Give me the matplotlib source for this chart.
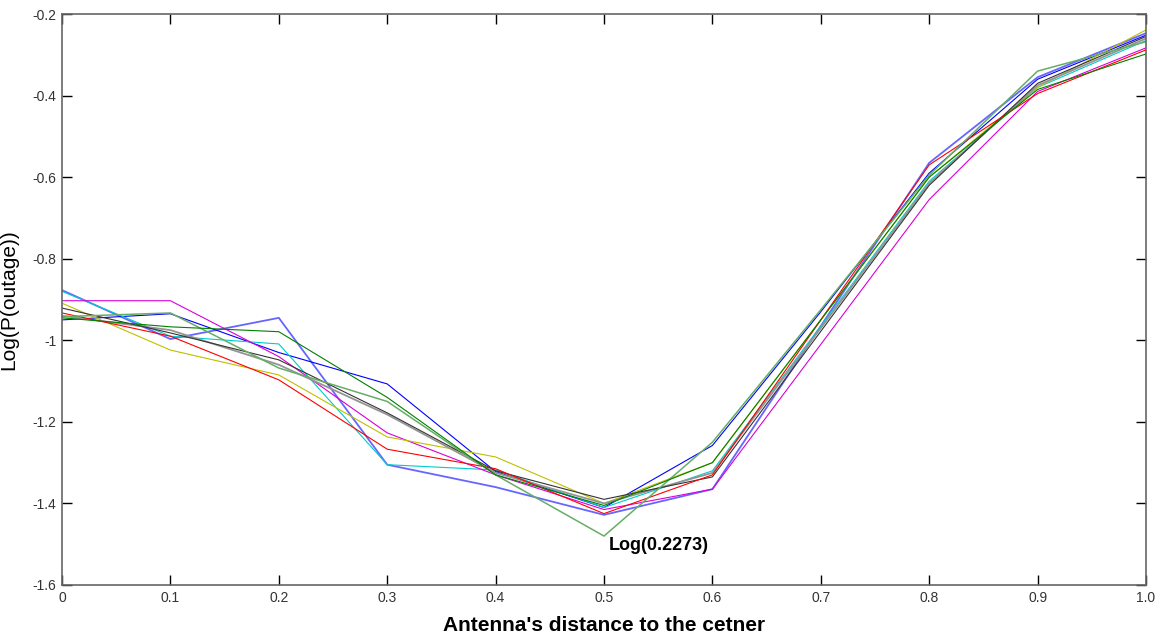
import matplotlib
matplotlib.use("Agg")
import matplotlib.pyplot as plt
from matplotlib.ticker import FixedLocator

x = [0.0, 0.1, 0.2, 0.3, 0.4, 0.5, 0.6, 0.7, 0.8, 0.9, 1.0]

blue_a = [-0.877, -0.997, -0.945, -1.305, -1.360, -1.428, -1.365, -0.965, -0.565, -0.355, -0.247]
blue_b = [-0.950, -0.935, -1.030, -1.107, -1.322, -1.410, -1.258, -0.930, -0.590, -0.360, -0.252]
cyan = [-0.880, -0.990, -1.009, -1.305, -1.318, -1.410, -1.320, -0.965, -0.610, -0.380, -0.265]
magenta = [-0.903, -0.903, -1.040, -1.227, -1.330, -1.415, -1.365, -1.010, -0.655, -0.390, -0.283]
yellow = [-0.909, -1.024, -1.085, -1.237, -1.286, -1.400, -1.300, -0.950, -0.600, -0.380, -0.239]
black = [-0.921, -0.982, -1.048, -1.178, -1.320, -1.390, -1.335, -0.978, -0.620, -0.370, -0.255]
red = [-0.933, -0.990, -1.097, -1.267, -1.315, -1.425, -1.330, -0.950, -0.570, -0.395, -0.288]
green_light = [-0.942, -0.933, -1.068, -1.150, -1.330, -1.480, -1.250, -0.925, -0.595, -0.340, -0.268]
green_dark = [-0.945, -0.967, -0.979, -1.140, -1.330, -1.405, -1.300, -0.950, -0.600, -0.385, -0.298]
gray = [-0.940, -0.975, -1.060, -1.182, -1.325, -1.400, -1.325, -0.970, -0.615, -0.375, -0.260]

series = [
    (blue_a, (0.4, 0.4, 1.0), 1.3),
    (blue_b, (0.0, 0.0, 1.0), 0.8),
    (cyan, (0.0, 0.8, 0.8), 0.8),
    (magenta, (0.85, 0.0, 0.85), 0.8),
    (yellow, (0.75, 0.75, 0.0), 0.8),
    (gray, (0.58, 0.58, 0.58), 1.3),
    (black, (0.2, 0.2, 0.2), 0.8),
    (red, (1.0, 0.0, 0.0), 0.8),
    (green_light, (0.4, 0.68, 0.4), 1.1),
    (green_dark, (0.0, 0.5, 0.0), 0.8),
]

xticks = [0, 0.1, 0.2, 0.3, 0.4, 0.5, 0.6, 0.7, 0.8, 0.9, 1.0]
xticklabels = ["0", "0.1", "0.2", "0.3", "0.4", "0.5", "0.6", "0.7", "0.8", "0.9", "1.0"]
yticks = [-1.6, -1.4, -1.2, -1.0, -0.8, -0.6, -0.4, -0.2]
yticklabels = ["-1.6", "-1.4", "-1.2", "-1", "-0.8", "-0.6", "-0.4", "-0.2"]

plt.rcParams['font.family'] = ['Liberation Sans', 'DejaVu Sans']

fig = plt.figure(figsize=(11.63, 6.35), dpi=100)
ax = fig.add_axes([62 / 1163, 50 / 635, (1146 - 62) / 1163, (585 - 14) / 635])

for vals, col, lw in series:
    ax.plot(x, vals, color=col, lw=lw)

ax.set_xlim(0, 1.0)
ax.set_ylim(-1.6, -0.2)
ax.xaxis.set_major_locator(FixedLocator(xticks))
ax.set_xticklabels(xticklabels, family=['Liberation Sans Narrow', 'Liberation Sans'])
ax.yaxis.set_major_locator(FixedLocator(yticks))
ax.set_yticklabels(yticklabels, family=['Liberation Sans Narrow', 'Liberation Sans'])

ax.tick_params(direction="in", length=7, width=1, top=True, right=True,
               labelsize=10, colors="black", labelcolor="#333333", pad=4)
for sp in ax.spines.values():
    sp.set_color("#666666")
    sp.set_linewidth(1.2)

ax.set_xlabel("Antenna's distance to the cetner", fontsize=15, fontweight="bold", labelpad=8)
ax.set_ylabel("Log(P(outage))", fontsize=15, labelpad=10)

ax.text(0.504, -1.503, "Log(0.2273)", fontsize=13, fontweight="bold", va="center", ha="left")

fig.savefig("out.png", dpi=100)
